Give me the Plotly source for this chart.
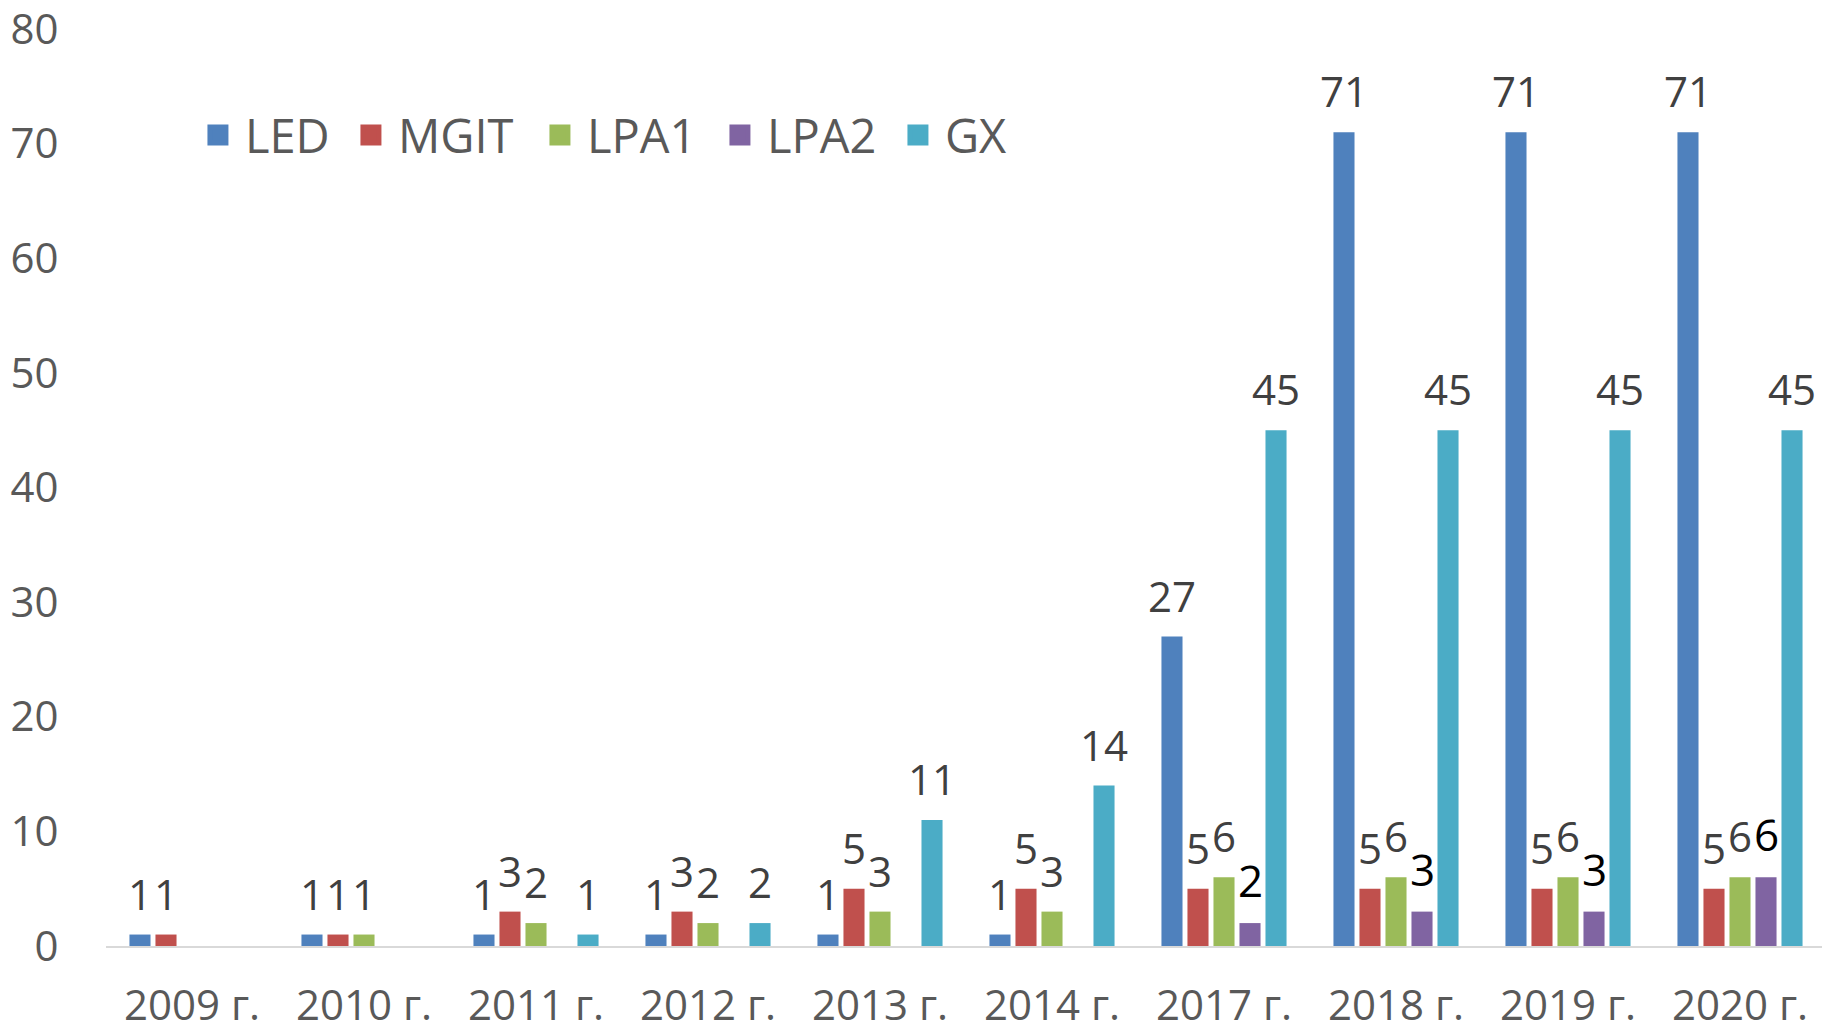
import plotly.graph_objects as go

categories = ["2009 г.", "2010 г.", "2011 г.", "2012 г.", "2013 г.",
              "2014 г.", "2017 г.", "2018 г.", "2019 г.", "2020 г."]
series_names = ["LED", "MGIT", "LPA1", "LPA2", "GX"]
led = [1, 1, 1, 1, 1, 1, 27, 71, 71, 71]
mgit = [1, 1, 3, 3, 5, 5, 5, 5, 5, 5]
lpa1 = [None, 1, 2, 2, 3, 3, 6, 6, 6, 6]
lpa2 = [None, None, None, None, None, None, 2, 3, 3, 6]
gx = [None, None, 1, 2, 11, 14, 45, 45, 45, 45]
y_ticks = [0, 10, 20, 30, 40, 50, 60, 70, 80]

series_values = [led, mgit, lpa1, lpa2, gx]
colors = ["#4F81BD", "#C0504D", "#9BBB59", "#8064A2", "#4BACC6"]
label_colors = ["#404040", "#404040", "#404040", "#000000", "#404040"]
label_sizes = [42, 42, 42, 44, 42]
legend_widths = [94, 130, 121, 119, 80]

FONT = "Open Sans"
FIG_W, FIG_H = 1822, 1028
M_L, M_R, M_T, M_B = 106, 0, 29, 82
CAT_PX = 172.0
plot_w = FIG_W - M_L - M_R
x_max = -0.5 + plot_w / CAT_PX
BARGAP = 0.244
BARGROUPGAP = 0.19
slot_px = CAT_PX * (1 - BARGAP) / len(series_names)

fig = go.Figure()
for name, vals, col in zip(series_names, series_values, colors):
    fig.add_trace(go.Bar(
        x=categories, y=vals, name=name, marker_color=col,
        marker_line_width=0, showlegend=False,
    ))
# legend entries
for name, col, lw in zip(series_names, colors, legend_widths):
    fig.add_trace(go.Scatter(
        x=[None], y=[None], mode="markers", name=name,
        marker=dict(symbol="square", size=16, color=col,
                    line=dict(width=5, color=col)),
        showlegend=True, legendwidth=lw,
    ))

annotations = []
for i, (vals, lc, ls) in enumerate(zip(series_values, label_colors, label_sizes)):
    for cat, v in zip(categories, vals):
        if v is None:
            continue
        annotations.append(dict(
            x=cat, y=v, xref="x", yref="y", text=str(v), showarrow=False,
            xanchor="center", yanchor="bottom",
            xshift=(i - 2) * slot_px, yshift=11,
            font=dict(family=FONT, size=ls, color=lc),
        ))

fig.update_layout(
    width=FIG_W, height=FIG_H,
    margin=dict(l=M_L, r=M_R, t=M_T, b=M_B, pad=0, autoexpand=False),
    barmode="group", bargap=BARGAP, bargroupgap=BARGROUPGAP,
    plot_bgcolor="white", paper_bgcolor="white",
    font=dict(family=FONT, size=42, color="#595959"),
    showlegend=True,
    legend=dict(
        orientation="h", x=0.0495, y=0.884, xanchor="left", yanchor="middle",
        font=dict(family=FONT, size=47, color="#595959"),
        bgcolor="rgba(0,0,0,0)", itemwidth=44,
    ),
    annotations=annotations,
    xaxis=dict(
        type="category", range=[-0.5, x_max], automargin=False,
        showgrid=False, zeroline=False,
        showline=True, linecolor="#D9D9D9", linewidth=2,
        ticks="outside", ticklen=22, tickcolor="rgba(0,0,0,0)",
        ticklabeloverflow="allow",
        tickfont=dict(family=FONT, size=42, color="#595959"),
    ),
    yaxis=dict(
        range=[0, 80], tickvals=y_ticks, automargin=False,
        showgrid=False, zeroline=False, showline=False,
        ticks="outside", ticklen=38, tickcolor="rgba(0,0,0,0)",
        ticklabeloverflow="allow",
        tickfont=dict(family=FONT, size=42, color="#595959"),
    ),
)

fig.write_html(
    "out.html",
    config={"displayModeBar": False},
    post_script="document.body.style.margin='0';document.body.style.overflow='hidden';",
)
